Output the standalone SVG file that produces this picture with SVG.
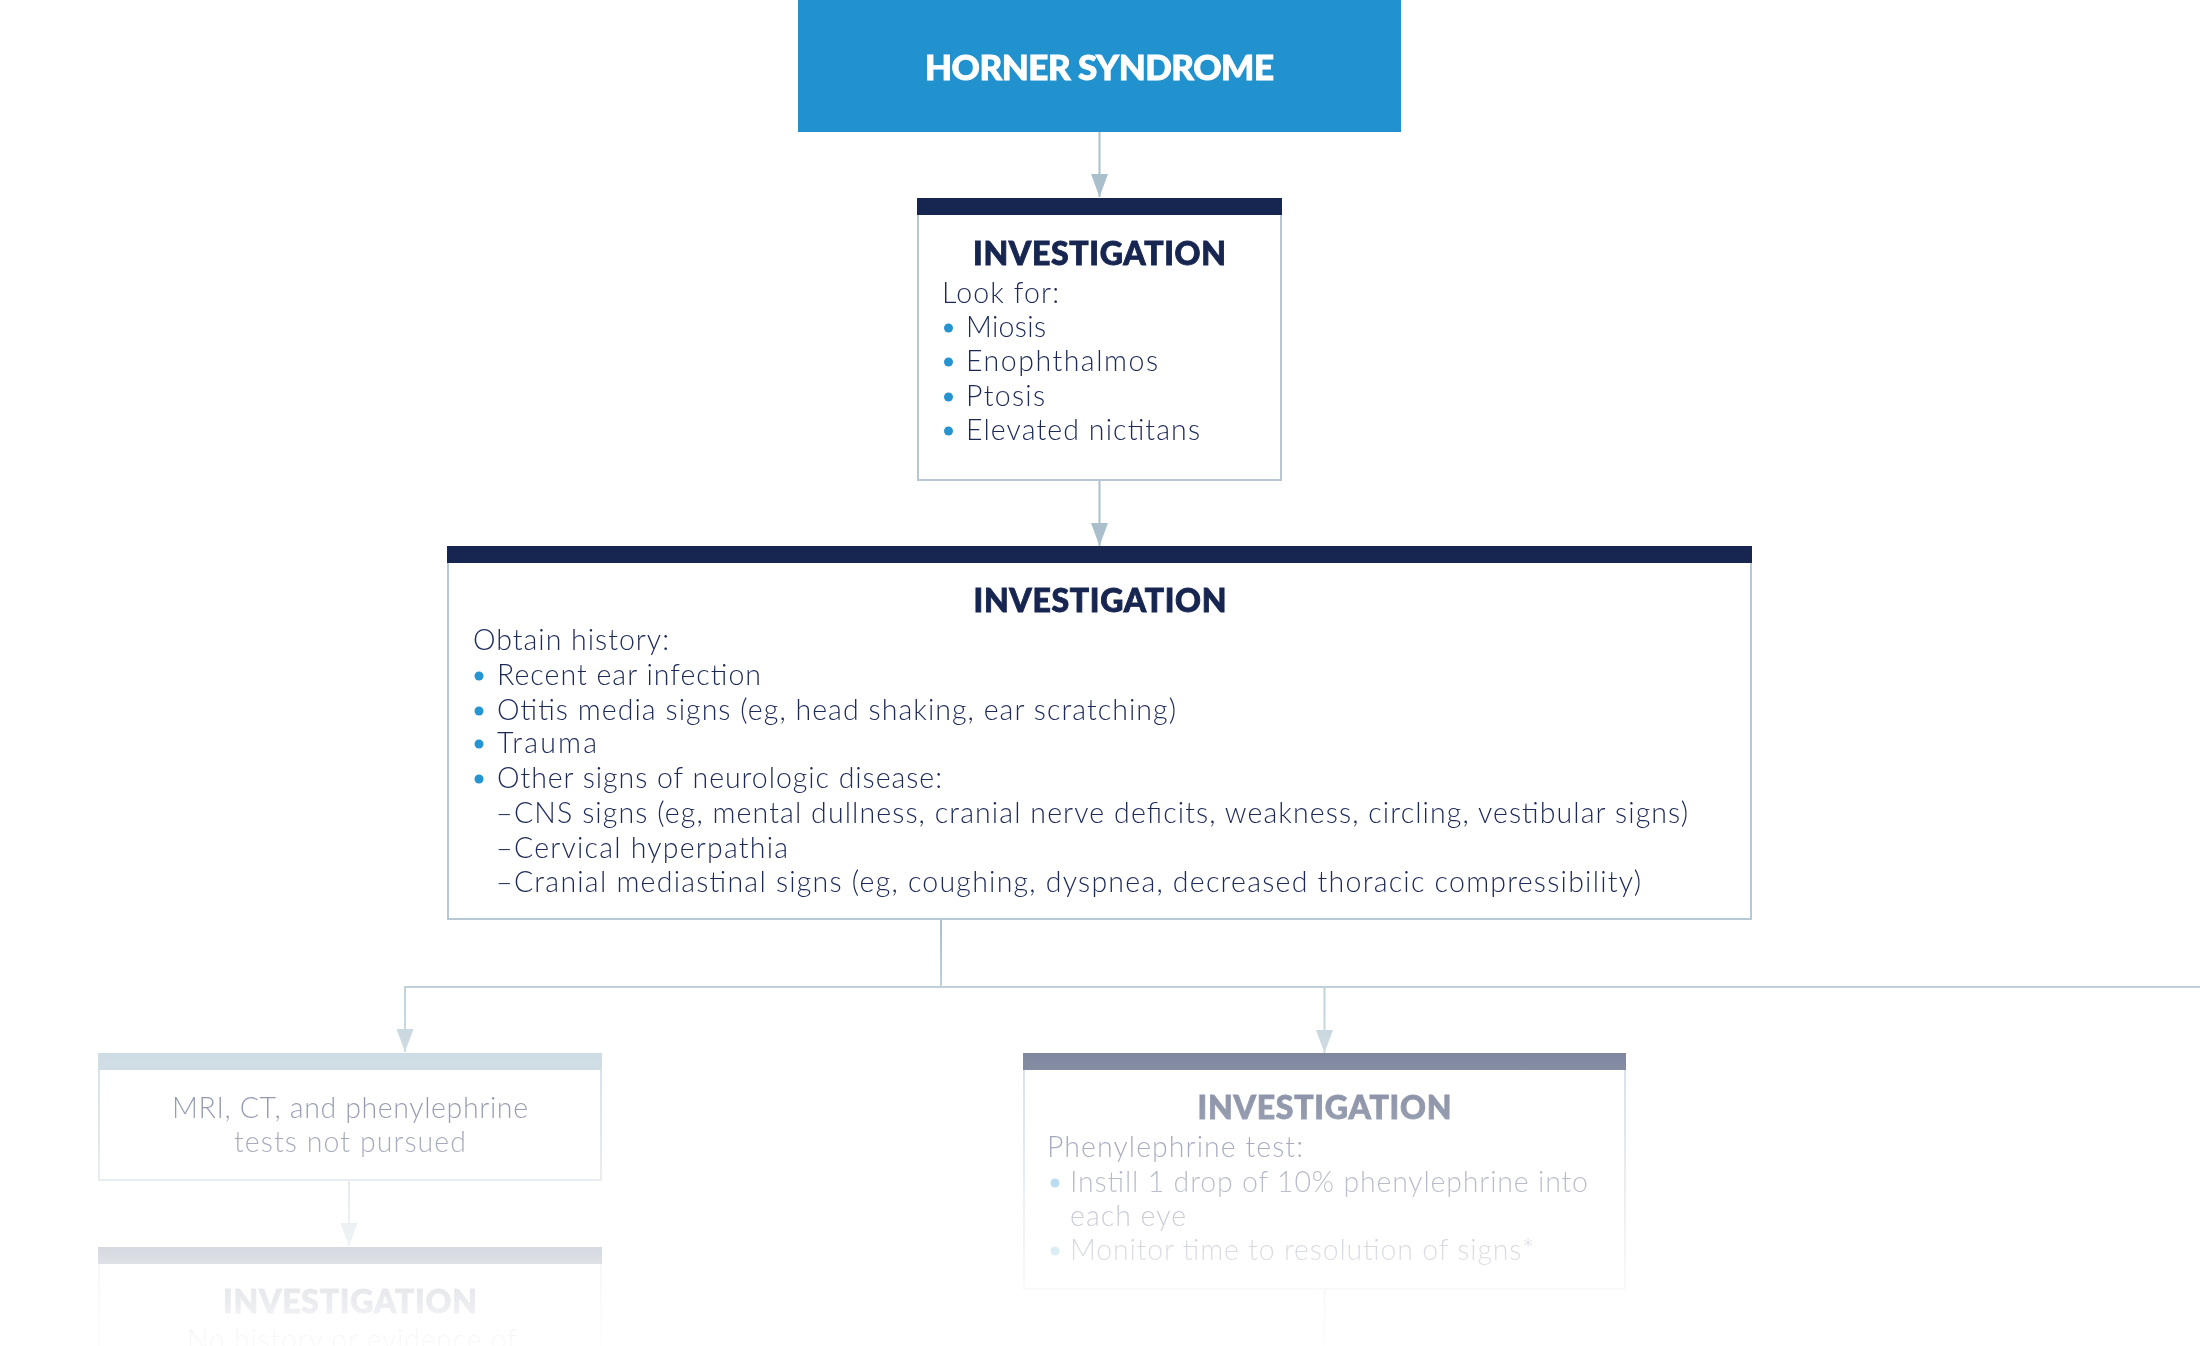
<svg xmlns="http://www.w3.org/2000/svg" width="2200" height="1346" viewBox="0 0 2200 1346">
<style>
  .body { font-family: "Lato", "Liberation Sans", sans-serif; font-size: 28.5px; font-weight: 300; fill: #1d2a58; }
  .head { font-family: "Lato", "Liberation Sans", sans-serif; font-size: 32px; font-weight: 900; fill: #172650; stroke: #172650; stroke-width: 0.9; text-anchor: middle; }
  .title { font-family: "Lato", "Liberation Sans", sans-serif; font-size: 35px; font-weight: 900; fill: #ffffff; stroke: #ffffff; stroke-width: 0.9; text-anchor: middle; }
  .box { fill: #ffffff; stroke: #b7c8d5; stroke-width: 2; }
  .bar { fill: #172650; }
  .barlight { fill: #a6bfce; }
  .dot { fill: #2594d0; }
  .conn { fill: none; stroke: #a9bfcc; stroke-width: 2; }
  .center { text-anchor: middle; }
</style>
<defs>
  <marker id="arrow" viewBox="0 0 23 17" refX="23" refY="8.5" markerWidth="23" markerHeight="17" markerUnits="userSpaceOnUse" orient="auto">
    <path d="M0,0 L23,8.5 L0,17 z" fill="#a9bfcc"/>
  </marker>
  <linearGradient id="fadeGrad" gradientUnits="userSpaceOnUse" x1="0" y1="0" x2="0" y2="1346">
    <stop offset="0" stop-color="#fff" stop-opacity="1"/>
    <stop offset="0.6835" stop-color="#fff" stop-opacity="1"/>
    <stop offset="0.7355" stop-color="#fff" stop-opacity="0.72"/>
    <stop offset="0.7875" stop-color="#fff" stop-opacity="0.54"/>
    <stop offset="0.8321" stop-color="#fff" stop-opacity="0.45"/>
    <stop offset="0.8841" stop-color="#fff" stop-opacity="0.3"/>
    <stop offset="0.9361" stop-color="#fff" stop-opacity="0.15"/>
    <stop offset="0.9807" stop-color="#fff" stop-opacity="0.06"/>
    <stop offset="1" stop-color="#fff" stop-opacity="0.03"/>
  </linearGradient>
  <mask id="fade" maskUnits="userSpaceOnUse" x="0" y="0" width="2200" height="1346">
    <rect x="0" y="0" width="2200" height="1346" fill="url(#fadeGrad)"/>
  </mask>
</defs>
<rect x="0" y="0" width="2200" height="1346" fill="#ffffff"/>
<g mask="url(#fade)">
  <g id="connectors">
    <line class="conn" x1="1099.5" y1="132" x2="1099.5" y2="197" marker-end="url(#arrow)"/>
    <line class="conn" x1="1099.5" y1="480" x2="1099.5" y2="546" marker-end="url(#arrow)"/>
    <line class="conn" x1="941" y1="919" x2="941" y2="987"/>
    <line class="conn" x1="404" y1="987" x2="2200" y2="987"/>
    <line class="conn" x1="405" y1="986" x2="405" y2="1052" marker-end="url(#arrow)"/>
    <line class="conn" x1="1324.5" y1="986" x2="1324.5" y2="1053" marker-end="url(#arrow)"/>
    <line class="conn" x1="349" y1="1180" x2="349" y2="1246" marker-end="url(#arrow)"/>
    <line class="conn" x1="1324.5" y1="1289" x2="1324.5" y2="1346"/>
  </g>

  <g id="horner-syndrome">
    <rect x="798" y="0" width="603" height="132" fill="#2192cd"/>
    <text class="title" x="1099.5" y="80" textLength="349" lengthAdjust="spacing">HORNER SYNDROME</text>
  </g>

  <g id="investigation-signs">
    <rect class="box" x="918" y="199" width="363" height="281"/>
    <rect class="bar" x="917" y="198" width="365" height="17"/>
    <text class="head" x="1099.5" y="265" textLength="253" lengthAdjust="spacing">INVESTIGATION</text>
    <text class="body" x="942" y="303" textLength="117" lengthAdjust="spacing">Look for:</text>
    <circle class="dot" cx="948.5" cy="328" r="4.5"/>
    <text class="body" x="966" y="337" textLength="80" lengthAdjust="spacing">Miosis</text>
    <circle class="dot" cx="948.5" cy="362" r="4.5"/>
    <text class="body" x="966" y="371" textLength="192" lengthAdjust="spacing">Enophthalmos</text>
    <circle class="dot" cx="948.5" cy="397" r="4.5"/>
    <text class="body" x="966" y="406" textLength="79" lengthAdjust="spacing">Ptosis</text>
    <circle class="dot" cx="948.5" cy="431" r="4.5"/>
    <text class="body" x="966" y="440" textLength="234" lengthAdjust="spacing">Elevated nictitans</text>
  </g>

  <g id="investigation-history">
    <rect class="box" x="448" y="547" width="1303" height="372"/>
    <rect class="bar" x="447" y="546" width="1305" height="17"/>
    <text class="head" x="1100" y="612" textLength="253" lengthAdjust="spacing">INVESTIGATION</text>
    <text class="body" x="473" y="650" textLength="196" lengthAdjust="spacing">Obtain history:</text>
    <circle class="dot" cx="479" cy="676" r="4.5"/>
    <text class="body" x="497" y="685" textLength="264" lengthAdjust="spacing">Recent ear infection</text>
    <circle class="dot" cx="479" cy="711" r="4.5"/>
    <text class="body" x="497" y="720" textLength="679" lengthAdjust="spacing">Otitis media signs (eg, head shaking, ear scratching)</text>
    <circle class="dot" cx="479" cy="744" r="4.5"/>
    <text class="body" x="497" y="753" textLength="100" lengthAdjust="spacing">Trauma</text>
    <circle class="dot" cx="479" cy="779" r="4.5"/>
    <text class="body" x="497" y="788" textLength="445" lengthAdjust="spacing">Other signs of neurologic disease:</text>
    <text class="body" x="496" y="823">–<tspan x="514" textLength="1174" lengthAdjust="spacing">CNS signs (eg, mental dullness, cranial nerve deficits, weakness, circling, vestibular signs)</tspan></text>
    <text class="body" x="496" y="858">–<tspan x="514" textLength="274" lengthAdjust="spacing">Cervical hyperpathia</tspan></text>
    <text class="body" x="496" y="892">–<tspan x="514" textLength="1127" lengthAdjust="spacing">Cranial mediastinal signs (eg, coughing, dyspnea, decreased thoracic compressibility)</tspan></text>
  </g>

  <g id="tests-not-pursued">
    <rect class="box" x="99" y="1054" width="502" height="126"/>
    <rect class="barlight" x="98" y="1053" width="504" height="17"/>
    <text class="body center" x="350" y="1118" textLength="356" lengthAdjust="spacing">MRI, CT, and phenylephrine</text>
    <text class="body center" x="350" y="1152" textLength="232" lengthAdjust="spacing">tests not pursued</text>
  </g>

  <g id="investigation-phenylephrine">
    <rect class="box" x="1024" y="1054" width="601" height="235"/>
    <rect class="bar" x="1023" y="1053" width="603" height="17"/>
    <text class="head" x="1324.5" y="1119" textLength="254" lengthAdjust="spacing">INVESTIGATION</text>
    <text class="body" x="1047" y="1157" textLength="256" lengthAdjust="spacing">Phenylephrine test:</text>
    <circle class="dot" cx="1055" cy="1183" r="4.5"/>
    <text class="body" x="1070" y="1192" textLength="518" lengthAdjust="spacing">Instill 1 drop of 10% phenylephrine into</text>
    <text class="body" x="1070" y="1226" textLength="116" lengthAdjust="spacing">each eye</text>
    <circle class="dot" cx="1055" cy="1251" r="4.5"/>
    <text class="body" x="1070" y="1260" textLength="464" lengthAdjust="spacing">Monitor time to resolution of signs*</text>
  </g>

  <g id="investigation-no-history">
    <rect class="box" x="99" y="1248" width="502" height="140"/>
    <rect class="bar" x="98" y="1247" width="504" height="17"/>
    <text class="head" x="350" y="1313" textLength="254" lengthAdjust="spacing">INVESTIGATION</text>
    <text class="body center" x="352" y="1350" textLength="330" lengthAdjust="spacing">No history or evidence of</text>
  </g>
</g>
</svg>
